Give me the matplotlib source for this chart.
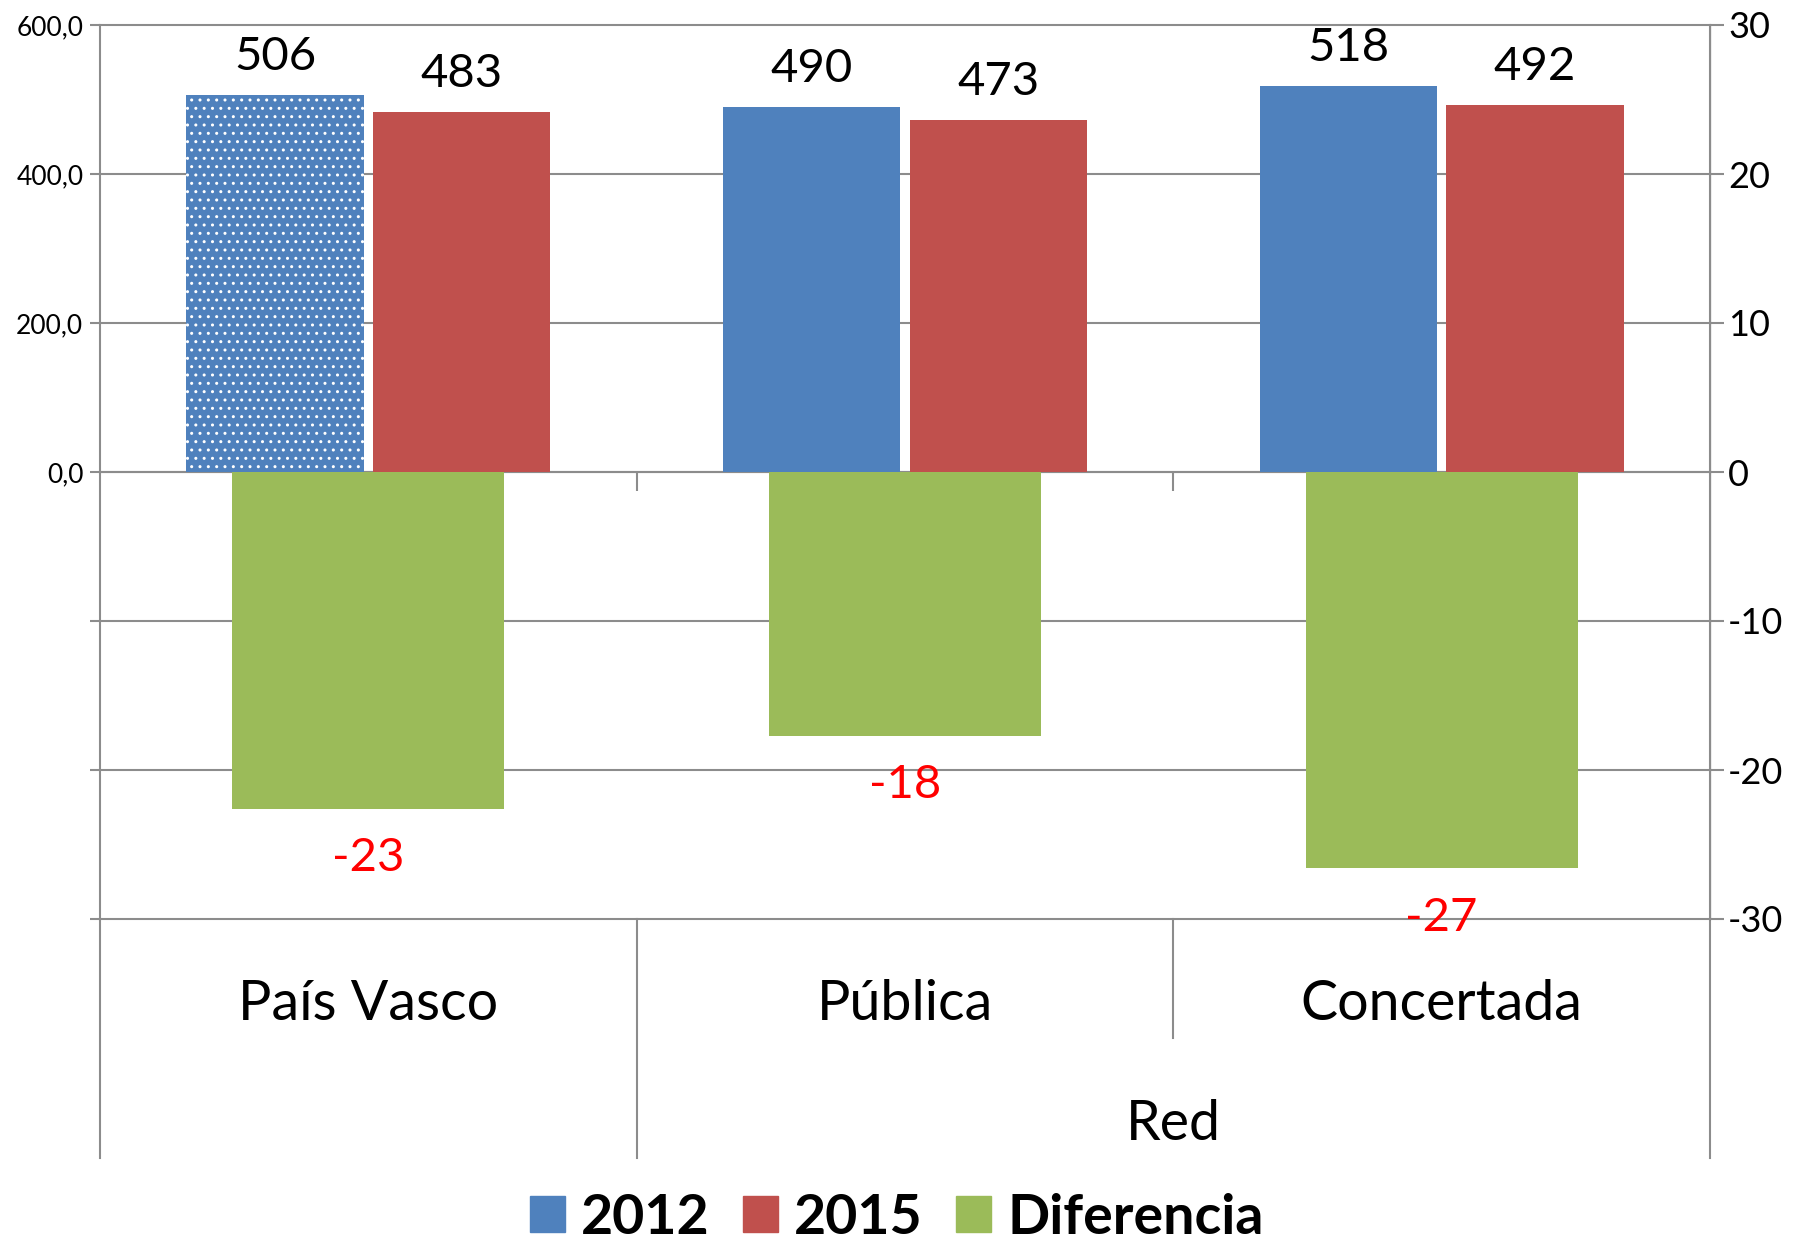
import matplotlib
matplotlib.use("Agg")
import matplotlib.pyplot as plt
import numpy as np
from matplotlib.patches import Patch
from matplotlib.ticker import FuncFormatter

# data
categories = ["País Vasco", "Pública", "Concertada"]
group_label = "Red"          # second-level category spanning Pública + Concertada
vals_2012 = [506, 490, 518]
vals_2015 = [483, 473, 492]
diferencia = [-22.6, -17.7, -26.6]
left_ticks = [-600, -400, -200, 0, 200, 400, 600]
right_ticks = [-30, -20, -10, 0, 10, 20, 30]
series_names = ["2012", "2015", "Diferencia"]

BLUE = "#4F81BD"
RED = "#C0504D"
GREEN = "#9BBB59"
GRID = "#8C8C8C"

plt.rcParams["font.family"] = ["Lato", "DejaVu Sans"]
plt.rcParams["axes.unicode_minus"] = False

W, H = 1812, 1246
fig = plt.figure(figsize=(W / 100, H / 100), dpi=100)
ax = fig.add_axes([100 / W, 1 - 919 / H, 1610 / W, 894 / H])
ax2 = ax.twinx()

x = np.arange(len(categories))
bw, off = 0.33, 0.174

b12 = ax.bar(x - off, vals_2012, bw, color=BLUE, zorder=3)
# the first blue bar is filled with a white dot pattern
b12[0].set_hatch("..")
b12[0].set_edgecolor("white")
b12[0].set_linewidth(0)
ax.bar(x + off, vals_2015, bw, color=RED, zorder=3)
ax2.bar(x, diferencia, 0.507, color=GREEN, zorder=3)

for xi, v in zip(x - off, vals_2012):
    ax.annotate(f"{v}", (xi, v), xytext=(0, 18), textcoords="offset points",
                ha="center", va="baseline", fontsize=34, zorder=5)
for xi, v in zip(x + off, vals_2015):
    ax.annotate(f"{v}", (xi, v), xytext=(0, 18), textcoords="offset points",
                ha="center", va="baseline", fontsize=34, zorder=5)
for xi, v in zip(x, diferencia):
    ax2.annotate(f"{v:.0f}", (xi, v), xytext=(0, -45), textcoords="offset points",
                 ha="center", va="baseline", fontsize=34, color="#FF0000", zorder=5)

ax.set_xlim(-0.5, len(categories) - 0.5)
ax.set_ylim(-600, 600)
ax2.set_ylim(-30, 30)

# left axis: only the non-negative labels are shown
ax.set_yticks(left_ticks)
ax.yaxis.set_major_formatter(FuncFormatter(
    lambda v, p: "" if v < 0 else f"{v:.1f}".replace(".", ",")))
ax.tick_params(axis="y", direction="out", length=7, width=1.5, color=GRID,
               labelsize=19, pad=5)
ax2.set_yticks(right_ticks)
ax2.tick_params(axis="y", direction="out", length=10, width=1.5, color=GRID,
                labelsize=26, pad=3)

ax.yaxis.grid(True, color=GRID, lw=1.5, zorder=0)
for gl in ax.get_ygridlines():
    gl.set_clip_on(False)
ax.set_axisbelow(True)

# category axis crosses at zero, tick marks between categories
ax.spines["bottom"].set_position(("data", 0))
ax.set_xticks([0.5, 1.5])
ax.tick_params(axis="x", direction="out", length=14, width=1.5, color=GRID,
               labelbottom=False)
ax.spines["top"].set_visible(False)
for s in ["top", "bottom", "left"]:
    ax2.spines[s].set_visible(False)
for sp in [ax.spines["left"], ax.spines["bottom"], ax2.spines["right"]]:
    sp.set_color(GRID)
    sp.set_linewidth(1.5)

# multi-level category label area below the plot
tr = ax.get_xaxis_transform()
for xv, y_end in [(-0.5, -0.267), (0.5, -0.267), (1.5, -0.133), (2.5, -0.267)]:
    ax.plot([xv, xv], [0, y_end], transform=tr, color=GRID, lw=1.5, clip_on=False)
for xi, cat in zip(x, categories):
    ax.text(xi, -0.096, cat, transform=tr, ha="center", va="center", fontsize=40)
ax.text(1.5, -0.23, group_label, transform=tr, ha="center", va="center", fontsize=40)

handles = [Patch(color=c, label=n) for c, n in zip([BLUE, RED, GREEN], series_names)]
fig.legend(handles=handles, loc="center", bbox_to_anchor=(0.495, 1 - 1218 / H),
           ncol=3, frameon=False, prop=dict(weight="bold", size=40),
           handlelength=0.62, handleheight=0.62, handletextpad=0.3,
           columnspacing=0.6)

fig.savefig("out.png", dpi=100)
